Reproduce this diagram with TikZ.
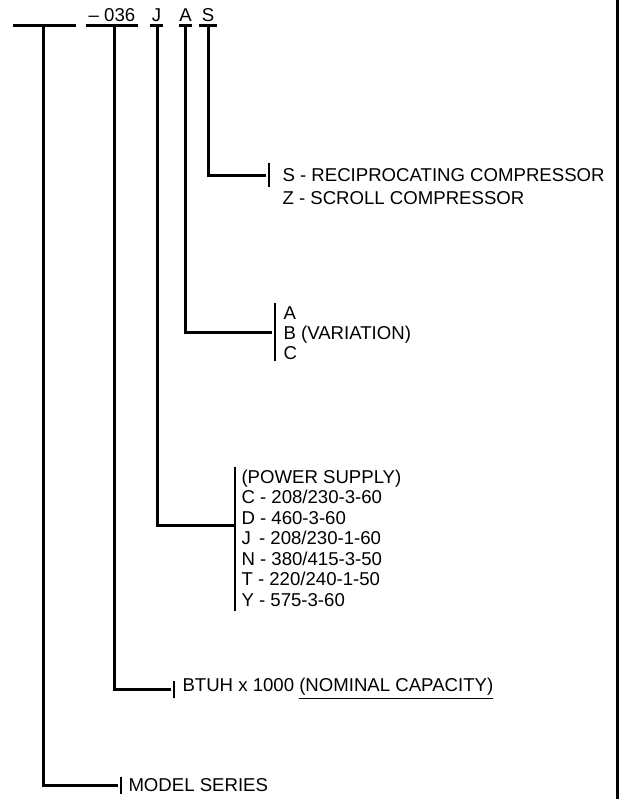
\documentclass[tikz,border=0pt]{standalone}
\usepackage{fontspec}
\setmainfont{Liberation Sans}
\usetikzlibrary{positioning}
\tikzset{
	lbl/.style={anchor=west,inner sep=0pt,align=left,font=\fontsize{9.3}{10.25}\selectfont},
	code/.style={anchor=base,inner sep=0pt,font=\fontsize{9.3}{10.25}\selectfont},
	bar/.style={fill=black,inner sep=0pt,minimum width=1.3pt,minimum height=#1}
}
\begin{document}
\begin{tikzpicture}[x=0.5pt,y=-0.5pt,line width=1.5pt]
	\useasboundingbox (0,0) rectangle (620,799);
	\draw[line width=1.8pt] (617.5,0) -- (617.5,799);

	% model number blanks
	\draw (13,25) -- (76,25);
	\draw (86,25) -- (138,25);
	\draw (150,25) -- (163,25);
	\draw (179,25) -- (192,25);
	\draw (199,25) -- (217,25);
	\node[code] (cap) at (112,21) {-- 036};
	\node[code] (pwr) at (156.5,21) {J};
	\node[code] (var) at (185.5,21) {A};
	\node[code] (cmp) at (208,21) {S};

	\coordinate (m) at (43,25);
	\coordinate (c) at (114,25);
	\coordinate (j) at (157,25);
	\coordinate (a) at (185,25);
	\coordinate (s) at (208,25);

	% end bars
	\node[bar=12pt] (sbar) at (269,175) {};
	\node[bar=29pt] (abar) at (275,332) {};
	\node[bar=72pt] (jbar) at (235,539) {};
	\node[bar=8.5pt] (cbar) at (174,689) {};
	\node[bar=8.5pt] (mbar) at (121,785) {};

	% texts
	\node[lbl,font=\fontsize{9.3}{11.5}\selectfont] (stxt) at (281,186.5)
		{S - RECIPROCATING COMPRESSOR\\Z - SCROLL COMPRESSOR};
	\node[lbl,font=\fontsize{9.3}{10}\selectfont] (atxt) at (282,333) {A\\B (VARIATION)\\C};
	\node[lbl] (jtxt) at (240,538) {(POWER SUPPLY)\\C - 208/230-3-60\\D - 460-3-60\\
		J\,\ - 208/230-1-60\\N - 380/415-3-50\\T - 220/240-1-50\\Y - 575-3-60};
	\node[lbl] (ctxt) at (181,689) {BTUH x 1000 \underline{(NOMINAL CAPACITY)}};
	\node[lbl] (mtxt) at (127,785) {MODEL SERIES};

	% leaders
	\draw (s) |- (sbar);
	\draw (a) |- (abar);
	\draw (j) |- (jbar.center |- 0,525);
	\draw (c) |- (cbar);
	\draw (m) |- (mbar);
\end{tikzpicture}
\end{document}
